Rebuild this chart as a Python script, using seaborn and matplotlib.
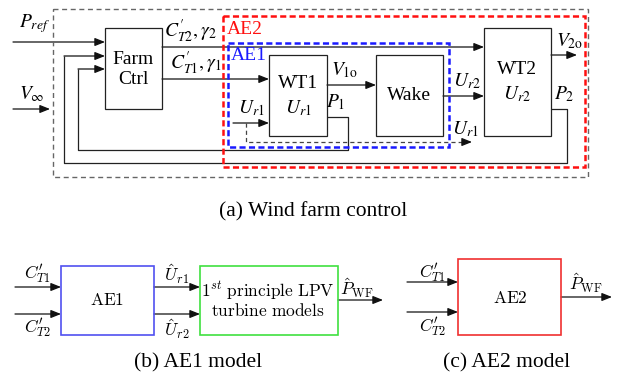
import matplotlib
matplotlib.use("Agg")
import matplotlib.pyplot as plt
from matplotlib.patches import Rectangle
import seaborn as sns

sns.set_theme(style="white")
plt.rcParams['font.family'] = ['Liberation Serif', 'DejaVu Serif']
plt.rcParams['mathtext.fontset'] = 'stix'
plt.rcParams['lines.scale_dashes'] = False

# ---------------- diagram data (pixel coordinates of the 624x375 canvas) ----
# solid blocks: label, x0, y0, x1, y1, edge colour
block_names = ['farm', 'wt1', 'wake', 'wt2', 'ae1b', 'lpv', 'ae2c']
block_x0 = [105, 269, 376, 484, 61, 200, 458]
block_y0 = [28, 55, 55, 28, 266, 266, 259]
block_x1 = [162, 327, 443, 551, 154, 338, 561]
block_y1 = [109, 136, 136, 136, 335, 335, 335]
block_col = ['#222222', '#222222', '#222222', '#222222', '#5050f0', '#40e040', '#f03030']

# dashed frames: x0, y0, x1, y1, colour, width, dash(on, off)
frame_x0 = [53, 223, 228]
frame_y0 = [9, 16, 43]
frame_x1 = [588, 585, 449]
frame_y1 = [177, 167, 147]
frame_col = ['#666666', '#ff1010', '#1a1aff']
frame_lw = [1.0, 1.8, 1.8]
frame_dash = [(3.6, 2.6), (4.4, 2.4), (4.4, 2.4)]

# arrows (polylines ending with an arrowhead)
arrow_paths = [
    [(13, 42), (105, 42)],                                  # P_ref
    [(13, 109), (50, 109)],                                 # V_inf
    [(162, 47), (484, 47)],                                 # C'T2
    [(162, 79), (269, 79)],                                 # C'T1
    [(233, 123), (269, 123)],                               # Ur1 in
    [(327, 85), (376, 85)],                                 # V1o
    [(443, 96), (484, 96)],                                 # Ur2
    [(551, 55), (577, 55)],                                 # V2o
    [(327, 117), (348, 117), (348, 150), (78, 150), (78, 69), (105, 69)],   # P1 loop
    [(551, 109), (567, 109), (567, 163), (64, 163), (64, 56), (105, 56)],   # P2 loop
    [(15, 287), (61, 287)], [(15, 314), (61, 314)],
    [(154, 287), (200, 287)], [(154, 314), (200, 314)],
    [(338, 300), (383, 300)],
    [(407, 282), (458, 282)], [(407, 312), (458, 312)],
    [(561, 297), (612, 297)],
]
# dashed Ur1 feed-through
dashed_path = [(246, 123), (246, 142), (472, 142)]

TOP = 14
BOT = 12.5
CAP = 15.5
# text labels: string, x, y, size, colour, math font
labels = [
    (r'$P_{ref}$', 35, 24, TOP, 'black', 'stix'),
    (r'$V_{\infty}$', 32, 94, TOP, 'black', 'stix'),
    (r"$C^{\prime}_{T2},\gamma_2$", 190, 31, TOP, 'black', 'stix'),
    (r"$C^{\prime}_{T1},\gamma_1$", 196, 63, TOP, 'black', 'stix'),
    ('AE2', 245, 29, TOP, '#ff1010', 'stix'),
    ('AE1', 249, 56, TOP, '#1a1aff', 'stix'),
    ('Farm', 133, 59, TOP, 'black', 'stix'),
    ('Ctrl', 133, 80, TOP, 'black', 'stix'),
    ('WT1', 298, 83, TOP, 'black', 'stix'),
    (r'$U_{r1}$', 298, 108, TOP, 'black', 'stix'),
    (r'$U_{r1}$', 251, 108, TOP, 'black', 'stix'),
    (r'$V_{1\mathrm{o}}$', 345, 70, TOP, 'black', 'stix'),
    (r'$P_1$', 336, 102, TOP, 'black', 'stix'),
    ('Wake', 409, 96, TOP, 'black', 'stix'),
    (r'$U_{r2}$', 467, 81, TOP, 'black', 'stix'),
    (r'$U_{r1}$', 465, 129, TOP, 'black', 'stix'),
    ('WT2', 517, 69, TOP, 'black', 'stix'),
    (r'$U_{r2}$', 517, 94, TOP, 'black', 'stix'),
    (r'$V_{2\mathrm{o}}$', 570, 41, TOP, 'black', 'stix'),
    (r'$P_2$', 564, 94, TOP, 'black', 'stix'),
    ('(a) Wind farm control', 313, 212, CAP, 'black', 'stix'),
    # (b)
    (r"$C^{\prime}_{T1}$", 37, 274, BOT, 'black', 'cm'),
    (r"$C^{\prime}_{T2}$", 37, 328, BOT, 'black', 'cm'),
    (r'$\mathrm{AE1}$', 107, 301, BOT, 'black', 'cm'),
    (r'$\hat{U}_{r1}$', 177, 274, BOT, 'black', 'cm'),
    (r'$\hat{U}_{r2}$', 177, 329, BOT, 'black', 'cm'),
    (r'$1^{st}\ \mathrm{principle\ LPV}$', 268, 291, BOT, 'black', 'cm'),
    (r'$\mathrm{turbine\ models}$', 268, 312, BOT, 'black', 'cm'),
    (r'$\hat{P}_{\mathrm{WF}}$', 357, 288, BOT, 'black', 'cm'),
    ('(b) AE1 model', 198, 363, CAP, 'black', 'stix'),
    # (c)
    (r"$C^{\prime}_{T1}$", 432, 273, BOT, 'black', 'cm'),
    (r"$C^{\prime}_{T2}$", 432, 327, BOT, 'black', 'cm'),
    (r'$\mathrm{AE2}$', 510, 299, BOT, 'black', 'cm'),
    (r'$\hat{P}_{\mathrm{WF}}$', 586, 283, BOT, 'black', 'cm'),
    ('(c) AE2 model', 507, 363, CAP, 'black', 'stix'),
]

# ---------------- drawing ----------------
fig = plt.figure(figsize=(6.24, 3.75), dpi=100)
ax = fig.add_axes([0, 0, 1, 1])
ax.set_xlim(0, 624)
ax.set_ylim(375, 0)
ax.axis('off')

LW = 0.9
for n, x0, y0, x1, y1, c in zip(block_names, block_x0, block_y0, block_x1, block_y1, block_col):
    lw = LW if c == '#222222' else 1.2
    ax.add_patch(Rectangle((x0, y0), x1 - x0, y1 - y0, fill=False, ec=c, lw=lw, zorder=3))

for x0, y0, x1, y1, c, lw, d in zip(frame_x0, frame_y0, frame_x1, frame_y1, frame_col, frame_lw, frame_dash):
    ax.add_patch(Rectangle((x0, y0), x1 - x0, y1 - y0, fill=False, ec=c, lw=lw,
                           linestyle=(0, d), zorder=4))

akw = dict(arrowstyle='-|>,head_length=0.55,head_width=0.22', color='#111111', lw=LW,
           shrinkA=0, shrinkB=0, mutation_scale=11)
for path in arrow_paths:
    xs = [p[0] for p in path]
    ys = [p[1] for p in path]
    if len(path) > 2:
        ax.plot(xs[:-1], ys[:-1], color='#222222', lw=LW, solid_capstyle='butt', zorder=2)
    ax.annotate('', xy=path[-1], xytext=path[-2], arrowprops=akw, zorder=2)

dxs = [p[0] for p in dashed_path]
dys = [p[1] for p in dashed_path]
ax.plot(dxs[:-1] + [dxs[-1] - 6], dys, color='#444444', lw=LW, linestyle=(0, (3.0, 2.2)), zorder=2)
ax.annotate('', xy=dashed_path[-1], xytext=(dashed_path[-1][0] - 6, dashed_path[-1][1]),
            arrowprops=akw, zorder=2)

for s, x, y, fs, c, mf in labels:
    ax.text(x, y, s, fontsize=fs, color=c, ha='center', va='center',
            family=['Liberation Serif', 'DejaVu Serif'],
            math_fontfamily=mf, zorder=5)

fig.savefig('out.png', dpi=100)
